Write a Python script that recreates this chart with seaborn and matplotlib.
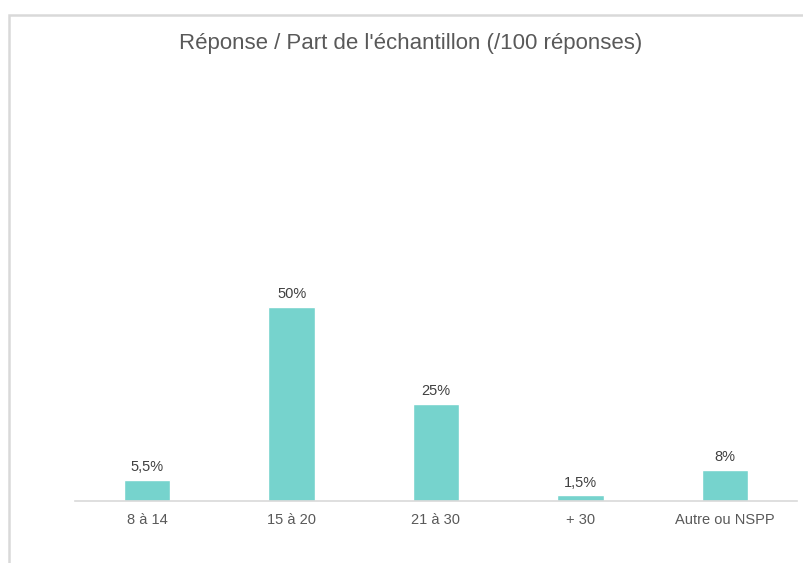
import matplotlib
matplotlib.use("Agg")
import matplotlib.pyplot as plt
import seaborn as sns
import pandas as pd
from matplotlib.patches import Rectangle

categories = ["8 à 14", "15 à 20", "21 à 30", "+ 30", "Autre ou NSPP"]
values = [5.5, 50, 25, 1.5, 8]
value_labels = ["5,5%", "50%", "25%", "1,5%", "8%"]
title = "Réponse / Part de l'échantillon (/100 réponses)"

sns.set_theme(style="white")
plt.rcParams["font.family"] = ["Liberation Sans", "DejaVu Sans"]

W, H = 804, 563
fig = plt.figure(figsize=(W / 100, H / 100), dpi=100)
fig.patch.set_facecolor("white")

left, right, base, topy = 75, 797, 501, 268
ax = fig.add_axes([left / W, (H - base) / H, (right - left) / W, (base - topy) / H])

df = pd.DataFrame({"cat": categories, "val": values})
sns.barplot(data=df, x="cat", y="val", color="#76D3CD", saturation=1, width=0.32, ax=ax)
ax.set_ylim(0, 60)
ax.set_xlim(-0.5, len(categories) - 0.5)

for i, (v, lab) in enumerate(zip(values, value_labels)):
    ax.annotate(lab, (i, v), xytext=(0, 4), textcoords="offset points",
                ha="center", va="bottom", fontsize=10.5, color="#404040")

ax.set_xlabel("")
ax.set_ylabel("")
ax.set_yticks([])
for s in ["top", "right", "left"]:
    ax.spines[s].set_visible(False)
ax.spines["bottom"].set_color("#D9D9D9")
ax.spines["bottom"].set_linewidth(1.2)
ax.tick_params(axis="x", length=0, pad=9, labelsize=10.5, labelcolor="#595959")
ax.patch.set_alpha(0)

fig.text(411 / W, 1 - 43 / H, title, ha="center", va="center", fontsize=16, color="#595959")

fig.patches.append(Rectangle((8.5 / W, -0.1), 1.2, 1.1 - 15.5 / H, transform=fig.transFigure,
                             fill=False, edgecolor="#D9D9D9", linewidth=1.8, figure=fig))

fig.savefig("out.png", dpi=100)
